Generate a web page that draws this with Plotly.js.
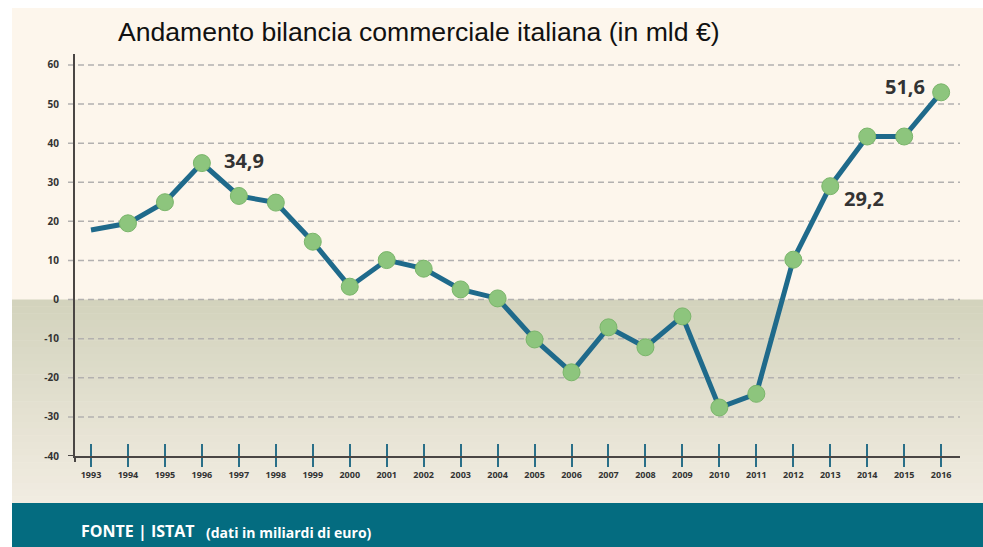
<!DOCTYPE html>
<html>
<head>
<meta charset="utf-8">
<script src="https://cdn.plot.ly/plotly-3.0.1.min.js"></script>
<style>html,body{margin:0;padding:0;background:#fff;}#chart{width:983px;height:547px;}</style>
</head>
<body>
<div id="chart"></div>
<script>
// ---- data ----
const years = [1993,1994,1995,1996,1997,1998,1999,2000,2001,2002,2003,2004,2005,2006,2007,2008,2009,2010,2011,2012,2013,2014,2015,2016];
const balance = [17.8,19.5,24.9,34.9,26.5,24.8,14.8,3.3,10.1,7.9,2.6,0.3,-10.2,-18.6,-7.1,-12.2,-4.3,-27.6,-24.1,10.2,29.0,41.7,41.7,53.0];
const yTicks = [60,50,40,30,20,10,0,-10,-20,-30,-40];
const yTickText = ["60","50","40","30","20","10","0","-10","-20","-30","-40"];
const labelYears = [1996,2013,2016];
const labelTexts = ["34,9","29,2","51,6"];
const titleText = "Andamento bilancia commerciale italiana (in mld €)";
const sourceMain = "FONTE | ISTAT";
const sourceNote = "(dati in miliardi di euro)";

// ---- layout geometry (pixels) ----
const W = 983, H = 547;
const mL = 75, mR = 23, mT = 54, mB = 91;
const pw = W - mL - mR, ph = H - mT - mB;
const px = p => (p - mL) / pw;
const py = p => (H - mB - p) / ph;

const shapes = [];
// cream panel
shapes.push({type:'rect', xref:'paper', yref:'paper', x0:px(12), x1:px(W), y0:py(503), y1:py(8), fillcolor:'#fdf6ec', line:{width:0}, layer:'below'});
// lower gradient panel (bands from value 0 down to footer)
const c0 = [211,211,189], c1 = [241,236,225];
const nB = 30;
const zeroPy = mT + ph * (62.8 - 0) / 102.8;
for (let i = 0; i < nB; i++) {
  const t = i / (nB - 1);
  const c = c0.map((v, k) => Math.round(v + (c1[k] - v) * t));
  const top = zeroPy + (503 - zeroPy) * i / nB;
  const bot = zeroPy + (503 - zeroPy) * (i + 1) / nB;
  shapes.push({type:'rect', xref:'paper', yref:'paper', x0:px(12), x1:px(W), y0:py(bot+0.5), y1:py(top), fillcolor:`rgb(${c[0]},${c[1]},${c[2]})`, line:{width:0}, layer:'below'});
}
// footer band
shapes.push({type:'rect', xref:'paper', yref:'paper', x0:px(12), x1:px(W), y0:py(H+2), y1:py(503), fillcolor:'#046c80', line:{width:0}, layer:'below'});
// dashed gridlines
yTicks.filter(v => v > -40).forEach(v => {
  shapes.push({type:'line', xref:'paper', yref:'y', x0:px(68), x1:px(960), y0:v, y1:v, line:{color:'#b3b1b0', width:1.5, dash:'6px,4px'}, layer:'below'});
});
// axis extensions
shapes.push({type:'line', xref:'paper', yref:'y', x0:px(68), x1:0, y0:-40, y1:-40, line:{color:'#4a4644', width:2}, layer:'above'});
shapes.push({type:'line', xref:'paper', yref:'paper', x0:0, x1:0, y0:py(456), y1:py(462), line:{color:'#4a4644', width:2}, layer:'above'});

const annotations = [];
const shifts = [{xa:'left', xs:20, ys:3}, {xa:'left', xs:12, ys:-12}, {xa:'right', xs:-14, ys:6}];
labelYears.forEach((yr, i) => {
  const idx = years.indexOf(yr);
  annotations.push({x:yr, y:balance[idx], xref:'x', yref:'y', text:labelTexts[i], showarrow:false,
    xanchor:shifts[i].xa, yanchor:'middle', xshift:shifts[i].xs, yshift:shifts[i].ys,
    font:{family:'Open Sans', size:20, color:'#333333', weight:700}});
});
annotations.push({xref:'paper', yref:'paper', x:px(79), y:py(531), xanchor:'left', yanchor:'middle', showarrow:false,
  text:sourceMain, font:{family:'Open Sans', size:16, color:'#ffffff', weight:700}});
annotations.push({xref:'paper', yref:'paper', x:px(204), y:py(532), xanchor:'left', yanchor:'middle', showarrow:false,
  text:sourceNote, font:{family:'Open Sans', size:14, color:'#ffffff', weight:700}});

const xRange = [1992.567, 2016.51];

const data = [
  {x:years, y:balance, type:'scatter', mode:'lines', line:{color:'#1f6a8b', width:5}, hoverinfo:'skip'},
  {x:years.slice(1), y:balance.slice(1), type:'scatter', mode:'markers',
   marker:{size:17, color:'#8dc57d', line:{color:'#7ab56a', width:1}}, hoverinfo:'skip'},
  {x:years, y:balance, xaxis:'x2', type:'scatter', mode:'markers', marker:{opacity:0}, hoverinfo:'skip'}
];

const layout = {
  width:W, height:H,
  margin:{l:mL, r:mR, t:mT, b:mB, pad:0},
  paper_bgcolor:'#ffffff', plot_bgcolor:'rgba(0,0,0,0)',
  showlegend:false,
  title:{text:titleText, x:118/W, xref:'container', xanchor:'left', y:1-32/H, yref:'container', yanchor:'middle',
    font:{family:'Liberation Sans, Arial, sans-serif', size:26.6, color:'#111111'}},
  xaxis:{range:xRange, tickvals:years, ticktext:years.map(String), showgrid:false, zeroline:false,
    showline:true, linecolor:'#4a4644', linewidth:2, ticks:'outside', ticklen:9, tickwidth:2, tickcolor:'#2a6f88',
    tickfont:{family:'Open Sans', size:9, color:'#333333', weight:700}, fixedrange:true},
  xaxis2:{range:xRange, overlaying:'x', anchor:'y', side:'bottom', tickvals:years, showticklabels:false,
    ticks:'inside', ticklen:12, tickwidth:2, tickcolor:'#2a6f88', showgrid:false, zeroline:false, showline:false},
  yaxis:{range:[-40, 62.8], tickvals:yTicks, ticktext:yTickText, showgrid:false, zeroline:false, showline:true,
    linecolor:'#4a4644', linewidth:2, ticks:'', ticklabelstandoff:12,
    tickfont:{family:'Open Sans', size:10, color:'#333333', weight:700}, fixedrange:true},
  shapes:shapes,
  annotations:annotations
};

Plotly.newPlot('chart', data, layout, {staticPlot:true, displayModeBar:false});
</script>
</body>
</html>
